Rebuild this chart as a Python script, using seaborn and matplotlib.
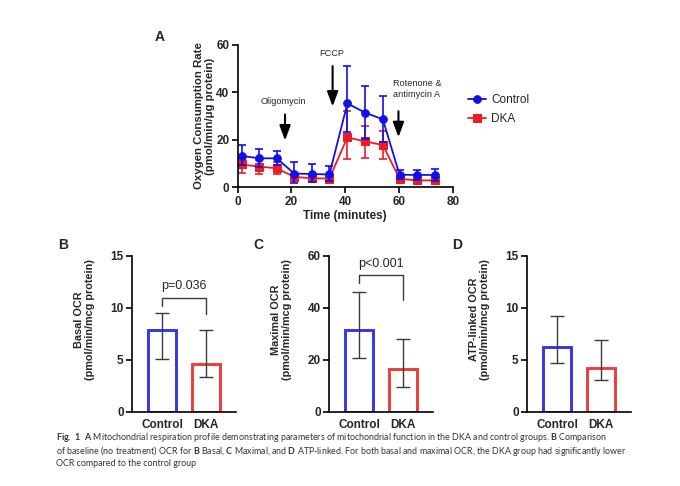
import numpy as np
import matplotlib
matplotlib.use("Agg")
import matplotlib.pyplot as plt
import seaborn as sns

# Panel A - mitochondrial respiration profile
time_min = [1.5, 8.1, 14.5, 21.0, 27.6, 34.1, 40.8, 47.4, 54.0, 60.2, 66.7, 73.3]
control_ocr = [13.2, 12.2, 12.2, 5.8, 5.6, 5.4, 35.3, 31.4, 28.6, 5.3, 5.2, 5.2]
control_hi = [17.6, 16.0, 15.3, 10.5, 9.6, 8.8, 51.0, 42.6, 38.4, 7.3, 7.3, 7.8]
control_lo = [9.5, 8.6, 9.2, 2.0, 2.2, 2.6, 23.4, 20.2, 19.2, 3.3, 3.2, 2.8]
dka_ocr = [9.6, 8.7, 8.0, 4.4, 3.8, 3.7, 21.0, 19.3, 17.8, 3.6, 2.9, 2.9]
dka_hi = [12.0, 11.6, 10.5, 5.6, 4.8, 4.6, 32.2, 26.0, 23.8, 4.6, 3.8, 3.8]
dka_lo = [6.2, 5.5, 5.5, 3.1, 2.8, 2.8, 12.0, 12.5, 11.8, 2.6, 2.0, 2.0]

# Panels B-D
groups = ["Control", "DKA"]
basal_mid = [7.82, 4.63]
basal_lo = [5.04, 3.35]
basal_hi = [9.51, 7.88]
maximal_mid = [31.3, 16.3]
maximal_lo = [20.7, 9.6]
maximal_hi = [46.0, 28.1]
atp_mid = [6.22, 4.24]
atp_lo = [4.69, 3.03]
atp_hi = [9.19, 6.93]

blue = "#1010e8"
red = "#ec1c24"
bar_blue = "#3535ee"
bar_red = "#ee3c3c"

sns.set_style("ticks")
plt.rcParams['font.family'] = ['Liberation Sans', 'DejaVu Sans']
plt.rcParams['mathtext.fontset'] = 'custom'
plt.rcParams['mathtext.rm'] = 'Lato'
plt.rcParams['mathtext.bf'] = 'Lato:bold'

fig = plt.figure(figsize=(6.8, 4.86), dpi=100)


def style_axis(ax, tick_size):
    for s in ['left', 'bottom']:
        ax.spines[s].set_linewidth(1.2)
        ax.spines[s].set_color('black')
    ax.tick_params(axis='both', width=1.2, length=4, color='black',
                   labelsize=tick_size, pad=2)
    for lab in ax.get_xticklabels() + ax.get_yticklabels():
        lab.set_fontweight('bold')


# ---- A ----
axA = fig.add_axes([0.3496, 0.6146, 0.3162, 0.2934])
for mean, lo, hi, col, mk, name in [(dka_ocr, dka_lo, dka_hi, red, 's', 'DKA'),
                                   (control_ocr, control_lo, control_hi, blue, 'o', 'Control')]:
    m = np.array(mean)
    axA.errorbar(time_min, m, yerr=[m - np.array(lo), np.array(hi) - m], fmt='none',
                 ecolor=col, elinewidth=1.2, capsize=2.6, capthick=1.2)
    sns.lineplot(x=time_min, y=mean, color=col, marker=mk, markersize=5.5,
                 markeredgecolor=col, linewidth=1.3, label=name, ax=axA)
axA.set_xlim(0, 80)
axA.set_ylim(0, 60)
axA.set_xticks([0, 20, 40, 60, 80])
axA.set_yticks([0, 20, 40, 60])
sns.despine(ax=axA)
style_axis(axA, 8.5)
axA.set_xlabel("Time (minutes)", fontsize=8.5, fontweight='bold', labelpad=2)
axA.set_ylabel("Oxygen Consumption Rate\n(pmol/min/\u03bcg protein)", fontsize=8.2,
               fontweight='bold', linespacing=1.1)
axA.yaxis.set_label_coords(-0.105, 0.5)

h, l = axA.get_legend_handles_labels()
axA.legend([h[1], h[0]], [l[1], l[0]], loc='center left', bbox_to_anchor=(1.07, 0.545),
           frameon=False, fontsize=8.5, handlelength=1.5, handletextpad=0.5,
           labelspacing=0.55, borderpad=0, borderaxespad=0)

arrow_kw = dict(arrowstyle='-|>,head_length=0.9,head_width=0.33', lw=1.5, color='black')
axA.annotate('', xy=(17.6, 18.5), xytext=(17.6, 31.8), arrowprops=arrow_kw)
axA.annotate('', xy=(35.3, 32.8), xytext=(35.3, 52.2), arrowprops=arrow_kw)
axA.annotate('', xy=(59.8, 19.9), xytext=(59.8, 33.2), arrowprops=arrow_kw)
axA.text(16.8, 36.0, "Oligomycin", fontsize=6.6, ha='center', va='center')
axA.text(34.9, 56.4, "FCCP", fontsize=6.6, ha='center', va='center')
axA.text(57.8, 41.3, "Rotenone &\nantimycin A", fontsize=6.6, ha='left', va='center',
         linespacing=1.25)

# ---- B, C, D ----
panels = [
    (0.1941, basal_mid, basal_lo, basal_hi, 15, [0, 5, 10, 15], "Basal OCR"),
    (0.4838, maximal_mid, maximal_lo, maximal_hi, 60, [0, 20, 40, 60], "Maximal OCR"),
    (0.7750, atp_mid, atp_lo, atp_hi, 15, [0, 5, 10, 15], "ATP-linked OCR"),
]
bar_axes = []
for left, mid, lo, hi, top, ticks, lab in panels:
    ax = fig.add_axes([left, 0.1529, 0.1529, 0.321])
    sns.barplot(x=groups, y=mid, hue=groups, palette=[bar_blue, bar_red], fill=False,
                linewidth=2.1, width=0.64, legend=False, errorbar=None, ax=ax)
    m = np.array(mid)
    ax.errorbar([0, 1], m, yerr=[m - np.array(lo), np.array(hi) - m], fmt='none',
                ecolor='#3a3a3a', elinewidth=1.0, capsize=4.7, capthick=1.0)
    ax.set_xlim(-0.68, 1.68)
    ax.set_ylim(0, top)
    ax.set_yticks(ticks)
    sns.despine(ax=ax)
    style_axis(ax, 8.5)
    ax.tick_params(axis='x', length=0, pad=5)
    ax.set_xlabel("")
    ax.set_ylabel(lab + "\n(pmol/min/mcg protein)", fontsize=7.8, fontweight='bold',
                  linespacing=1.1)
    ax.yaxis.set_label_coords(-0.356, 0.59)
    bar_axes.append(ax)

# significance brackets
axB, axC = bar_axes[0], bar_axes[1]
axB.plot([0, 0, 1, 1], [10.2, 10.95, 10.95, 9.4], color='#3a3a3a', lw=1.0)
axB.text(0.5, 12.1, "p=0.036", fontsize=9, ha='center', va='center')
axC.plot([0, 0, 1, 1], [49.5, 52.7, 52.7, 42.8], color='#3a3a3a', lw=1.0)
axC.text(0.5, 56.8, "p<0.001", fontsize=9, ha='center', va='center')

# panel letters
for letter, px, py in [("A", 160, 37), ("B", 63, 245), ("C", 258, 245), ("D", 457, 245)]:
    fig.text(px / 680, 1 - py / 486, letter, fontsize=10, fontweight='bold',
             ha='center', va='center')

# caption
caption = [
    r"$\mathbf{Fig.\ 1}$  $\mathbf{A}$ Mitochondrial respiration profile demonstrating parameters of "
    r"mitochondrial function in the DKA and control groups. $\mathbf{B}$ Comparison",
    r"of baseline (no treatment) OCR for $\mathbf{B}$ Basal, $\mathbf{C}$ Maximal, and "
    r"$\mathbf{D}$ ATP-linked. For both basal and maximal OCR, the DKA group had significantly lower",
    "OCR compared to the control group",
]
for i, line in enumerate(caption):
    fig.text(55.7 / 680, 1 - (437.5 + 13.2 * i) / 486, line, fontsize=6.4,
             family='Lato', color='#333333', ha='left', va='center')

fig.savefig("out.png", dpi=100)
